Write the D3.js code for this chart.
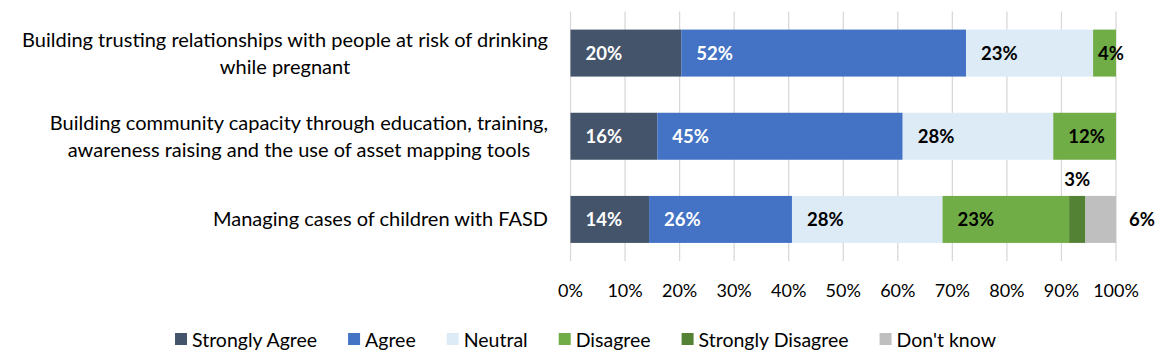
<!DOCTYPE html>
<html>
<head>
<meta charset="utf-8">
<script src="https://cdn.jsdelivr.net/npm/d3@7"></script>
<style>
  html, body { margin: 0; padding: 0; background: #ffffff; }
  svg { display: block; }
  text { font-family: Lato, "Open Sans", sans-serif; }
</style>
</head>
<body>
<svg id="chart" width="1170" height="359"></svg>
<script>
// ---------- DATA ----------
const categories = [
  "Building trusting relationships with people at risk of drinking while pregnant",
  "Building community capacity through education, training, awareness raising and the use of asset mapping tools",
  "Managing cases of children with FASD"
];
const categoryLines = [
  ["Building trusting relationships with people at risk of drinking", "while pregnant"],
  ["Building community capacity through education, training,", "awareness raising and the use of asset mapping tools"],
  ["Managing cases of children with FASD"]
];
const seriesNames = ["Strongly Agree", "Agree", "Neutral", "Disagree", "Strongly Disagree", "Don't know"];
const stronglyAgree    = [20.3, 15.9, 14.4];
const agree            = [52.2, 45.0, 26.2];
const neutral          = [23.3, 27.6, 27.6];
const disagree         = [4.2, 11.5, 23.2];
const stronglyDisagree = [0, 0, 3.0];
const dontKnow         = [0, 0, 5.6];
const xTicks = [0, 10, 20, 30, 40, 50, 60, 70, 80, 90, 100];

// ---------- STYLE ----------
const colors = ["#44546A", "#4472C4", "#DDEBF7", "#70AD47", "#548235", "#BFBFBF"];
const labelColors = ["#ffffff", "#ffffff", "#000000", "#000000", "#000000", "#000000"];
const labelMode = ["inside", "inside", "inside", "inside", "above", "right"];

const seriesValues = [stronglyAgree, agree, neutral, disagree, stronglyDisagree, dontKnow];
const rows = categories.map((c, i) => {
  const r = { category: c };
  seriesNames.forEach((s, j) => r[s] = seriesValues[j][i]);
  return r;
});

const svg = d3.select("#chart");
const x = d3.scaleLinear().domain([0, 100]).range([570.5, 1116]);
const y = d3.scaleBand().domain(categories).range([11.5, 261]).paddingInner(0.435).paddingOuter(0.2175);

// gridlines
svg.append("g").selectAll("line").data(xTicks).join("line")
  .attr("x1", d => x(d)).attr("x2", d => x(d))
  .attr("y1", 11.5).attr("y2", 261)
  .attr("stroke", "#d9d9d9").attr("stroke-width", 1.3);

// stacked bars
const stack = d3.stack().keys(seriesNames)(rows);
const layers = svg.append("g").selectAll("g").data(stack).join("g")
  .attr("fill", (d, i) => colors[i]);
layers.selectAll("rect").data(d => d.filter(p => p[1] - p[0] > 0)).join("rect")
  .attr("x", d => x(d[0]))
  .attr("y", d => y(d.data.category))
  .attr("width", d => x(d[1]) - x(d[0]))
  .attr("height", y.bandwidth());

// data labels
const labelsG = svg.append("g");
stack.forEach((layer, i) => {
  layer.forEach(p => {
    const v = p[1] - p[0];
    if (v <= 0) return;
    const x0 = x(p[0]), x1 = x(p[1]);
    const cy = y(p.data.category) + y.bandwidth() / 2;
    const t = labelsG.append("text")
      .text(Math.round(v) + "%")
      .attr("font-weight", 700)
      .attr("font-size", 18.5)
      .attr("fill", labelColors[i])
      .attr("dominant-baseline", "central");
    if (labelMode[i] === "above") {
      t.attr("x", (x0 + x1) / 2).attr("y", y(p.data.category) - 17).attr("text-anchor", "middle");
    } else if (labelMode[i] === "right") {
      t.attr("x", x(100) + 13).attr("y", cy);
    } else {
      const w = x1 - x0;
      t.attr("x", w < 40 ? x0 + 5 : x0 + 15).attr("y", cy);
    }
  });
});

// category labels
const catG = svg.append("g");
categoryLines.forEach((lines, i) => {
  const cy = y(categories[i]) + y.bandwidth() / 2;
  const lh = 27;
  const g = catG.append("g");
  const texts = lines.map((ln, k) => g.append("text")
    .text(ln)
    .attr("font-size", 20)
    .attr("fill", "#000")
    .attr("text-anchor", "middle")
    .attr("dominant-baseline", "central")
    .attr("y", cy - 1 + (k - (lines.length - 1) / 2) * lh));
  const maxW = d3.max(texts, t => t.node().getComputedTextLength());
  const right = 548;
  texts.forEach(t => t.attr("x", right - maxW / 2));
});

// x tick labels
svg.append("g").selectAll("text").data(xTicks).join("text")
  .attr("x", d => x(d)).attr("y", 290)
  .attr("text-anchor", "middle")
  .attr("dominant-baseline", "central")
  .attr("font-size", 18)
  .attr("fill", "#000")
  .text(d => d + "%");

// legend
const legend = svg.append("g");
let lx = 0;
seriesNames.forEach((name, i) => {
  const g = legend.append("g");
  g.append("rect").attr("x", 0).attr("y", 333).attr("width", 12).attr("height", 12).attr("fill", colors[i]);
  const t = g.append("text").attr("x", 17).attr("y", 339)
    .attr("dominant-baseline", "central")
    .attr("font-size", 19.5).attr("fill", "#000").text(name);
  const w = 17 + t.node().getComputedTextLength();
  g.attr("transform", `translate(${lx},0)`);
  lx += w + 31;
});
const totalW = lx - 31;
legend.attr("transform", `translate(${585.5 - totalW / 2},0)`);
</script>
</body>
</html>
